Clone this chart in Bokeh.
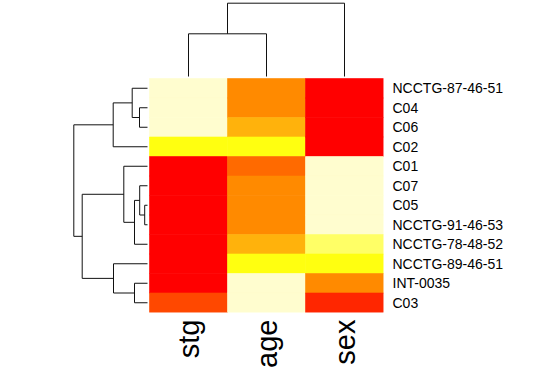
import math
from bokeh.plotting import figure
from bokeh.models import Range1d, FixedTicker, ColumnDataSource
from bokeh.transform import linear_cmap
from bokeh.embed import file_html
from bokeh.resources import INLINE

# ---------------- data ----------------
row_labels = ["NCCTG-87-46-51", "C04", "C06", "C02", "C01", "C07", "C05",
              "NCCTG-91-46-53", "NCCTG-78-48-52", "NCCTG-89-46-51", "INT-0035", "C03"]
col_labels = ["stg", "age", "sex"]

# colour level (0 = red ... 11 = pale yellow) per cell, rows top to bottom
stg_level = [11, 11, 11, 8, 0, 0, 0, 0, 0, 0, 0, 2]
age_level = [4, 4, 6, 8, 3, 4, 4, 4, 6, 8, 11, 11]
sex_level = [0, 0, 0, 0, 11, 11, 11, 11, 10, 8, 4, 1]

heat_palette = ["#FF0000", "#FF2600", "#FF4800", "#FF6A00", "#FF8A00", "#FF9F00",
                "#FFB20C", "#FFDF00", "#FFFF10", "#FFFF2A", "#FFFF66", "#FFFDCF"]

# hclust-style merges (negative = leaf number in display order, positive = merge number)
row_merge = [(-2, -3), (-1, 1), (2, -4), (-7, -8), (-6, 4), (5, -9),
             (-5, 6), (-11, -12), (-10, 8), (7, 9), (3, 10)]
row_height = [8.0, 15.3, 34.3, 2.8, 7.8, 13.0, 23.7, 13.0, 34.0, 65.3, 73.7]

col_merge = [(-1, -2), (1, -3)]
col_height = [42.7, 73.3]

# ---------------- layout ----------------
W, H = 524, 376
cell_w, cell_h = 78.0, 19.5
hm_left, hm_top = 149.0, 78.0
n_rows, n_cols = len(row_labels), len(col_labels)
frame_w = hm_left + n_cols * cell_w
frame_h = hm_top + n_rows * cell_h

x_start = -0.5 - hm_left / cell_w
x_end = n_cols - 0.5
y_start = -0.5
y_end = n_rows - 0.5 + hm_top / cell_h

p = figure(width=W, height=H, x_range=Range1d(x_start, x_end), y_range=Range1d(y_start, y_end),
           output_backend="svg", toolbar_location=None,
           x_axis_location="below", y_axis_location="right",
           min_border_left=0, min_border_top=0,
           min_border_right=int(W - frame_w), min_border_bottom=int(H - frame_h))
p.outline_line_color = None
p.xgrid.grid_line_color = None
p.ygrid.grid_line_color = None
p.background_fill_color = "white"
p.border_fill_color = "white"

# heatmap cells
xs, ys, lv = [], [], []
for ci, levels in enumerate([stg_level, age_level, sex_level]):
    for ri, l in enumerate(levels):
        xs.append(ci)
        ys.append(n_rows - 1 - ri)
        lv.append(l)
src = ColumnDataSource(dict(x=xs, y=ys, level=lv))
cmap = linear_cmap("level", heat_palette, low=-0.5, high=len(heat_palette) - 0.5)
p.rect(x="x", y="y", width=1, height=1, source=src, fill_color=cmap, line_color=cmap, line_width=0.6)


def dendro_segments(merges, heights, leaf_pos):
    pos = {}
    segs = []

    def node(ref):
        if ref < 0:
            return leaf_pos[-ref - 1], 0.0
        return pos[ref], heights[ref - 1]

    for i, (a, b) in enumerate(merges, start=1):
        pa, ha = node(a)
        pb, hb = node(b)
        hm = heights[i - 1]
        segs.append((pa, ha, pa, hm))
        segs.append((pb, hb, pb, hm))
        segs.append((pa, hm, pb, hm))
        pos[i] = (pa + pb) / 2.0
    return segs


gap_px = 2.0
row_px_per_h = 1.0
col_px_per_h = 1.0

# row dendrogram (left)
row_pos = [n_rows - 1 - i for i in range(n_rows)]
rs = dendro_segments(row_merge, row_height, row_pos)
p.segment(x0=[-0.5 - (gap_px + s[1] * row_px_per_h) / cell_w for s in rs],
          y0=[s[0] for s in rs],
          x1=[-0.5 - (gap_px + s[3] * row_px_per_h) / cell_w for s in rs],
          y1=[s[2] for s in rs],
          line_color="#111111", line_width=1)

# column dendrogram (top)
col_pos = list(range(n_cols))
cs = dendro_segments(col_merge, col_height, col_pos)
p.segment(x0=[s[0] for s in cs],
          y0=[n_rows - 0.5 + (gap_px + s[1] * col_px_per_h) / cell_h for s in cs],
          x1=[s[2] for s in cs],
          y1=[n_rows - 0.5 + (gap_px + s[3] * col_px_per_h) / cell_h for s in cs],
          line_color="#111111", line_width=1)

# axes
for ax in (p.xaxis[0], p.yaxis[0]):
    ax.axis_line_color = None
    ax.major_tick_line_color = None
    ax.minor_tick_line_color = None
    ax.major_tick_out = 0
    ax.major_tick_in = 0
    ax.major_label_text_font = "Liberation Sans"
    ax.major_label_text_color = "black"

p.xaxis.ticker = FixedTicker(ticks=list(range(n_cols)))
p.xaxis.major_label_overrides = {i: lab for i, lab in enumerate(col_labels)}
p.xaxis.major_label_orientation = math.pi / 2
p.xaxis.major_label_text_font_size = "29px"
p.xaxis.major_label_standoff = 7

p.yaxis.ticker = FixedTicker(ticks=list(range(n_rows)))
p.yaxis.major_label_overrides = {n_rows - 1 - i: lab for i, lab in enumerate(row_labels)}
p.yaxis.major_label_text_font_size = "14px"
p.yaxis.major_label_standoff = 9

open("out.html", "w").write(file_html(p, INLINE))
